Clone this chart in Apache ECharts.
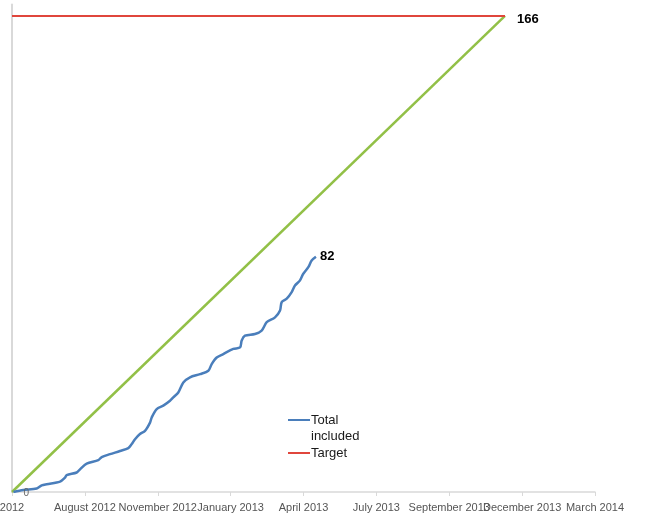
<!DOCTYPE html>
<html>
<head>
<meta charset="utf-8">
<script src="https://cdn.jsdelivr.net/npm/echarts@6/dist/echarts.min.js"></script>
<style>html,body{margin:0;padding:0;background:#fff}#c{width:665px;height:520px}</style>
</head>
<body>
<div id="c"></div>
<script>
// Tick labels (x positions are tick indices 0..8)
const xTickLabels = ['2012', 'August 2012', 'November 2012', 'January 2013', 'April 2013', 'July 2013', 'September 2013', 'December 2013', 'March 2014'];

// Total included (x in tick units, y = count)
const totalX = [0.02,0.155,0.339,0.408,0.476,0.659,0.727,0.75,0.888,0.933,1.025,1.184,1.231,1.345,1.482,1.596,1.643,1.688,1.756,1.825,1.894,1.917,1.986,2.076,2.168,2.213,2.282,2.351,2.443,2.58,2.694,2.74,2.809,2.899,3.037,3.129,3.152,3.197,3.334,3.426,3.495,3.609,3.678,3.701,3.77,3.838,3.883,3.952,3.997,4.066,4.112,4.171];
const totalY = [0,0.7,1.2,2.3,2.7,3.6,5.0,5.9,6.8,7.9,9.9,11.1,12.2,13.2,14.3,15.3,16.7,18.4,20.2,21.3,24.2,26.0,28.9,30.1,31.8,33.0,34.7,38.2,40.0,41.1,42.3,44.6,46.9,48.1,49.9,50.4,52.8,54.5,55.1,56.3,59.2,60.9,63.3,66.2,67.4,69.7,72.0,73.8,76.1,78.4,80.7,82];

// Target line (trajectory) and target level
const targetX = [0, 6.765];
const trajectoryY = [0, 166];
const targetY = [166, 166];

const FONT = 'Liberation Sans, Arial, sans-serif';
const TOTAL_NAME = 'Total\nincluded';

const totalData = totalX.map((x, i) => {
  const d = { value: [x, totalY[i]] };
  if (i === 0) d.label = { show: true, position: 'right', distance: 10, offset: [0, 1], color: '#666', fontSize: 10, fontFamily: FONT, formatter: () => String(totalY[0]) };
  if (i === totalX.length - 1) d.label = { show: true, position: 'right', distance: 4, color: '#000', fontSize: 13, fontWeight: 'bold', fontFamily: FONT, formatter: () => String(totalY[i]) };
  return d;
});
const trajData = targetX.map((x, i) => {
  const d = { value: [x, trajectoryY[i]] };
  if (i === targetX.length - 1) d.label = { show: true, position: 'right', distance: 12, offset: [0, 3], color: '#000', fontSize: 13, fontWeight: 'bold', fontFamily: FONT, formatter: () => String(trajectoryY[i]) };
  return d;
});
const targetData = targetX.map((x, i) => [x, targetY[i]]);

const chart = echarts.init(document.getElementById('c'), null, { renderer: 'canvas' });
chart.setOption({
  animation: false,
  backgroundColor: '#fff',
  grid: { left: 12, right: 70, top: 4.5, bottom: 28, containLabel: false, outerBoundsMode: 'none' },
  xAxis: {
    type: 'value', min: 0, max: 8, interval: 1,
    axisLine: { show: true, lineStyle: { color: '#d9d9d9', width: 1.5 } },
    axisTick: { show: true, length: 4, lineStyle: { color: '#d9d9d9' } },
    splitLine: { show: false },
    axisLabel: { margin: 10, color: '#555', fontSize: 11, fontFamily: FONT, formatter: v => xTickLabels[Math.round(v)] || '' }
  },
  yAxis: {
    type: 'value', min: 0, max: 170,
    axisLine: { show: true, lineStyle: { color: '#d9d9d9', width: 2 } },
    axisTick: { show: false },
    axisLabel: { show: false },
    splitLine: { show: false }
  },
  legend: {
    left: 288, top: 396, orient: 'vertical', itemWidth: 22, itemHeight: 2, itemGap: 1, padding: 0,
    icon: 'rect',
    textStyle: { color: '#1a1a1a', fontSize: 13, lineHeight: 16, fontFamily: FONT, padding: [0, 0, 0, -4] },
    formatter: name => (name === TOTAL_NAME ? '\u00a0\n' + name : name),
    data: [TOTAL_NAME, 'Target']
  },
  series: [
    { name: 'Trajectory', type: 'line', data: trajData, symbol: 'circle', symbolSize: 0, showSymbol: true,
      lineStyle: { color: '#92c047', width: 2.5 }, itemStyle: { color: '#92c047' }, z: 2 },
    { name: 'Target', type: 'line', data: targetData, showSymbol: false,
      lineStyle: { color: '#e0463c', width: 2 }, itemStyle: { color: '#e0463c' }, z: 3 },
    { name: TOTAL_NAME, type: 'line', data: totalData, symbol: 'circle', symbolSize: 0, showSymbol: true,
      smooth: 0.3, lineStyle: { color: '#4a7ebb', width: 2.5 }, itemStyle: { color: '#4a7ebb' }, z: 4 }
  ]
});
</script>
</body>
</html>
